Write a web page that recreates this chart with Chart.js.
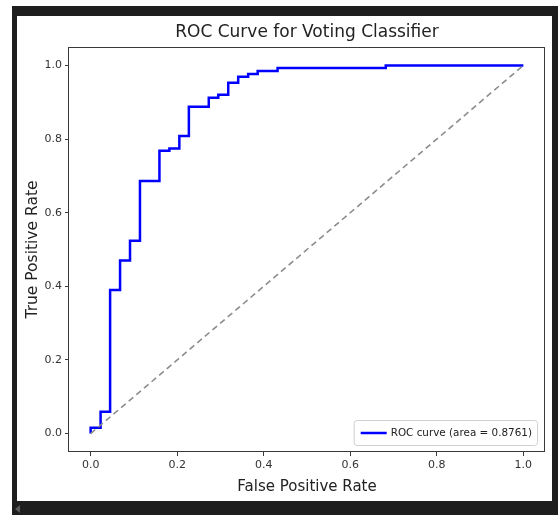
<!DOCTYPE html>
<html>
<head>
<meta charset="utf-8">
<script src="https://cdn.jsdelivr.net/npm/chart.js@4.4.1/dist/chart.umd.min.js"></script>
<style>
  html, body { margin: 0; padding: 0; background: #ffffff; width: 558px; height: 515px; overflow: hidden; }
  #frame { position: absolute; left: 12px; top: 6px; width: 546px; height: 509px; background: #1e1e1e; }
  #inner { position: absolute; left: 17px; top: 16px; width: 535px; height: 485px; background: #ffffff; }
  #arrow { position: absolute; left: 15px; top: 505px; width: 0; height: 0;
           border-top: 4px solid transparent; border-bottom: 4px solid transparent; border-right: 5px solid #5a5a5a; }
  #c { position: absolute; left: 0; top: 0; }
</style>
</head>
<body>
<div id="frame"></div>
<div id="inner"></div>
<div id="arrow"></div>
<canvas id="c" width="558" height="515"></canvas>
<script>
// ---- data ----
const fpr = [0, 0, 0.023, 0.023, 0.045, 0.045, 0.068, 0.068, 0.091, 0.091, 0.114, 0.114,
             0.159, 0.159, 0.182, 0.182, 0.205, 0.205, 0.227, 0.227, 0.273, 0.273, 0.295, 0.295,
             0.318, 0.318, 0.341, 0.341, 0.364, 0.364, 0.386, 0.386, 0.432, 0.432, 0.682, 0.682, 1.0];
const tpr = [0, 0.016, 0.016, 0.059, 0.059, 0.390, 0.390, 0.470, 0.470, 0.524, 0.524, 0.686,
             0.686, 0.768, 0.768, 0.774, 0.774, 0.808, 0.808, 0.888, 0.888, 0.912, 0.912, 0.920,
             0.920, 0.953, 0.953, 0.969, 0.969, 0.977, 0.977, 0.985, 0.985, 0.993, 0.993, 1.0, 1.0];
const chanceX = [0, 1];
const chanceY = [0, 1];
const xTicks = [0.0, 0.2, 0.4, 0.6, 0.8, 1.0];
const yTicks = [0.0, 0.2, 0.4, 0.6, 0.8, 1.0];
const rocAuc = 0.8761;
const titleText = 'ROC Curve for Voting Classifier';
const xLabel = 'False Positive Rate';
const yLabel = 'True Positive Rate';
const rocLabel = 'ROC curve (area = ' + rocAuc.toFixed(4) + ')';

const FONT = "'DejaVu Sans', 'Liberation Sans', sans-serif";

const framePlugin = {
  id: 'framePlugin',
  afterDraw(chart) {
    const { ctx, chartArea: a } = chart;
    ctx.save();
    // axes spines
    ctx.strokeStyle = '#3a3a3a';
    ctx.lineWidth = 1;
    ctx.strokeRect(Math.round(a.left) - 0.5, Math.round(a.top) + 0.5, Math.round(a.right - a.left), Math.round(a.bottom - a.top) - 1);
    // title
    ctx.fillStyle = '#222222';
    ctx.font = '17px ' + FONT;
    ctx.textAlign = 'center';
    ctx.textBaseline = 'middle';
    ctx.fillText(titleText, (a.left + a.right) / 2, a.top - 14);
    // legend (lower right, inside axes)
    const ds = chart.data.datasets[0];
    ctx.font = '10.4px ' + FONT;
    const tw = ctx.measureText(ds.label).width;
    const bw = tw + 42, bh = 25;
    const bx = a.right - 8 - bw, by = a.bottom - 7 - bh;
    ctx.fillStyle = 'rgba(255,255,255,0.85)';
    ctx.strokeStyle = '#d0d0d0';
    ctx.lineWidth = 1;
    ctx.beginPath();
    if (ctx.roundRect) ctx.roundRect(bx + 0.5, by + 0.5, bw, bh, 3); else ctx.rect(bx + 0.5, by + 0.5, bw, bh);
    ctx.fill();
    ctx.stroke();
    ctx.strokeStyle = ds.borderColor;
    ctx.lineWidth = ds.borderWidth;
    ctx.beginPath();
    ctx.moveTo(bx + 7, by + bh / 2 + 0.5);
    ctx.lineTo(bx + 33, by + bh / 2 + 0.5);
    ctx.stroke();
    ctx.fillStyle = '#222222';
    ctx.textAlign = 'left';
    ctx.fillText(ds.label, bx + 37, by + bh / 2 + 1);
    ctx.restore();
  }
};

const tickFmt = v => Number(v).toFixed(1);

new Chart(document.getElementById('c'), {
  type: 'scatter',
  data: {
    datasets: [
      {
        label: rocLabel,
        data: fpr.map((x, i) => ({ x: x, y: tpr[i] })),
        showLine: true,
        borderColor: '#0000ff',
        backgroundColor: '#0000ff',
        borderWidth: 2.5,
        pointRadius: 0,
        tension: 0,
        order: 1
      },
      {
        label: 'chance',
        data: chanceX.map((x, i) => ({ x: x, y: chanceY[i] })),
        showLine: true,
        borderColor: '#8c8c8c',
        borderWidth: 1.6,
        borderDash: [6, 4],
        pointRadius: 0,
        order: 0
      }
    ]
  },
  options: {
    responsive: false,
    animation: false,
    devicePixelRatio: 1,
    layout: { padding: { left: 0, right: 13, top: 47, bottom: 0 } },
    plugins: {
      legend: { display: false },
      title: { display: false },
      tooltip: { enabled: false }
    },
    scales: {
      x: {
        type: 'linear',
        min: -0.05,
        max: 1.05,
        afterBuildTicks: s => { s.ticks = xTicks.map(v => ({ value: v })); },
        afterFit: s => { s.height = 63; },
        grid: { display: true, drawOnChartArea: false, drawTicks: true, tickLength: 4, tickColor: '#3a3a3a', color: '#3a3a3a' },
        border: { display: false },
        ticks: { callback: tickFmt, color: '#333333', font: { family: FONT, size: 11 }, padding: 3, maxRotation: 0, autoSkip: false },
        title: { display: true, text: xLabel, color: '#222222', font: { family: FONT, size: 15 }, padding: { top: 0, bottom: 19 } }
      },
      y: {
        type: 'linear',
        min: -0.05,
        max: 1.05,
        afterBuildTicks: s => { s.ticks = yTicks.map(v => ({ value: v })); },
        afterFit: s => { s.width = 69; },
        grid: { display: true, drawOnChartArea: false, drawTicks: true, tickLength: 4, tickColor: '#3a3a3a', color: '#3a3a3a' },
        border: { display: false },
        ticks: { callback: tickFmt, color: '#333333', font: { family: FONT, size: 11 }, padding: 3, autoSkip: false },
        title: { display: true, text: yLabel, color: '#222222', font: { family: FONT, size: 15.5 }, padding: { top: 24, bottom: 0 } }
      }
    }
  },
  plugins: [framePlugin]
});
</script>
</body>
</html>
